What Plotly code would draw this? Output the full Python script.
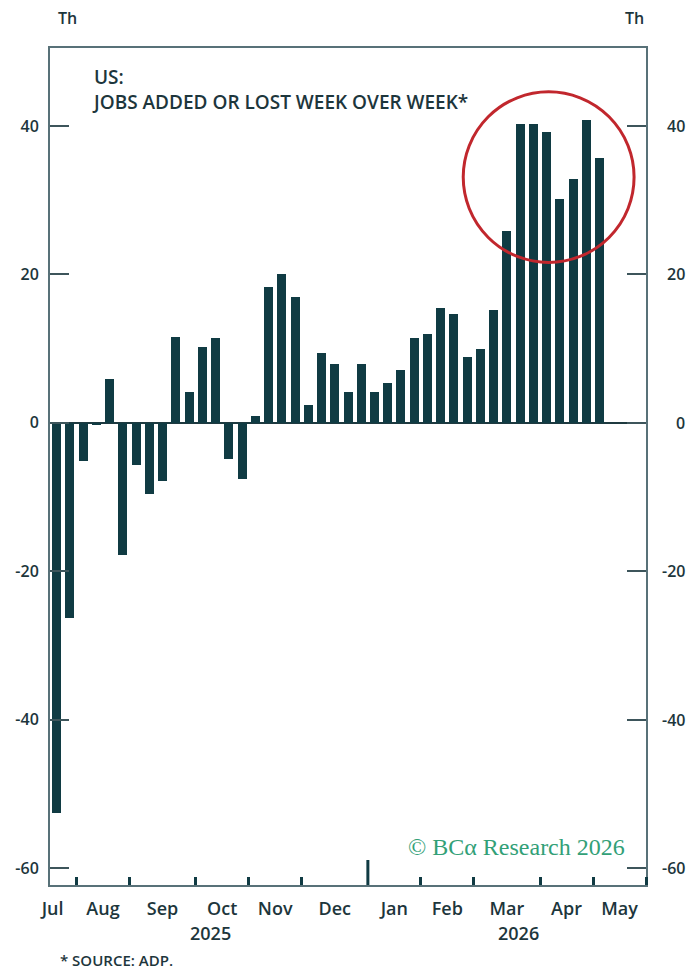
import plotly.graph_objects as go

# ---- data ----
week_index = list(range(42))
jobs_change = [-52.6, -26.3, -5.1, -0.3, 5.9, -17.8, -5.7, -9.6, -7.8, 11.6,
               4.1, 10.2, 11.4, -4.9, -7.6, 0.9, 18.3, 20.0, 17.0, 2.4,
               9.4, 7.9, 4.1, 7.9, 4.1, 5.4, 7.1, 11.4, 11.9, 15.4,
               14.6, 8.9, 9.9, 15.2, 25.9, 40.2, 40.2, 39.2, 30.2, 32.9,
               40.8, 35.7]
month_labels = ["Jul", "Aug", "Sep", "Oct", "Nov", "Dec", "Jan", "Feb", "Mar", "Apr", "May"]
month_label_pos = [-0.3, 3.5, 8, 12.5, 16.5, 21, 25.5, 29.5, 34, 38.5, 42.5]
month_bounds = [1.5, 5.5, 10.5, 14.5, 18.5, 27.5, 31.5, 36.5, 40.5, 44.5]
year_bound = 23.5
year_labels = ["2025", "2026"]
year_label_pos = [11.6, 34.9]
y_ticks = [-60, -40, -20, 0, 20, 40]
y_ticktext = ["-60", "-40", "-20", "0", "20", "40"]

DARK = "#103b43"
FRAME = "#587178"
TXT = "#1d363c"
FONT = "Open Sans"

X_RANGE = [-0.5, 44.5]
Y_RANGE = [-62.3, 50.5]
PW, PH = 596, 837  # plot area size in px

fig = go.Figure()
fig.add_trace(go.Bar(x=week_index, y=jobs_change, marker_color=DARK,
                     marker_line_width=0, width=0.68, showlegend=False))
# invisible trace to carry the right-hand axis
fig.add_trace(go.Scatter(x=[None], y=[None], yaxis="y2", showlegend=False,
                         hoverinfo="skip"))

fig.update_layout(
    width=690, height=970,
    margin=dict(l=50, r=44, t=48, b=85),
    paper_bgcolor="white", plot_bgcolor="white",
    font=dict(family=FONT, color=TXT, size=16),
    bargap=0,
    xaxis=dict(range=X_RANGE, tickmode="array", tickvals=month_label_pos,
               ticktext=month_labels, ticks="", showgrid=False, zeroline=False,
               showline=True, linecolor=FRAME, linewidth=2, mirror=True,
               ticklabelstandoff=6,
               tickfont=dict(family=FONT, size=18, color=TXT, weight=600),
               minor=dict(tickmode="array", tickvals=month_bounds, ticks="inside",
                          ticklen=8, tickwidth=3, tickcolor=DARK, showgrid=False)),
    yaxis=dict(range=Y_RANGE, tickmode="array", tickvals=y_ticks, ticktext=y_ticktext,
               ticks="inside", ticklen=19, tickwidth=2, tickcolor="#3d555b",
               showgrid=False, zeroline=True, zerolinecolor="#1f3a40", zerolinewidth=2,
               showline=True, linecolor=FRAME, linewidth=2, mirror=True,
               ticklabelstandoff=6,
               tickfont=dict(family=FONT, size=16, color=TXT, weight=600)),
    yaxis2=dict(range=Y_RANGE, overlaying="y", side="right", tickmode="array",
                tickvals=y_ticks, ticks="inside", ticklen=19,
                tickwidth=2, tickcolor="#3d555b", showgrid=False, zeroline=False,
                showline=False, showticklabels=False),
)

# right-hand tick labels, right-aligned like the original
for v, t in zip(y_ticks, y_ticktext):
    fig.add_annotation(xref="paper", yref="y2", x=1 + 41 / PW, y=v, xanchor="right",
                       yanchor="middle", showarrow=False, text=t,
                       font=dict(family=FONT, size=16, color=TXT, weight=600))

# taller year-boundary tick
fig.add_shape(type="line", xref="x", yref="paper", x0=year_bound, x1=year_bound,
              y0=0, y1=25 / PH, line=dict(color=DARK, width=3))

# red highlight circle
fig.add_shape(type="circle", xref="x", yref="y", x0=30.7, x1=43.6, y0=21.6, y1=44.6,
              line=dict(color="#c1272d", width=3))

# title
fig.add_annotation(xref="paper", yref="paper", x=40 / PW, y=1 - 14 / PH,
                   xanchor="left", yanchor="top", align="left", showarrow=False,
                   text="US:<br>JOBS ADDED OR LOST WEEK OVER WEEK*",
                   font=dict(family=FONT, size=19, color=TXT, weight=600))

# unit labels
for xp, anchor in [(0.01, "left"), (1.0, "right")]:
    fig.add_annotation(xref="paper", yref="paper", x=xp, y=1 + 30 / PH,
                       xanchor=anchor, yanchor="middle", showarrow=False, text="Th",
                       font=dict(family=FONT, size=16, color=TXT, weight=600))

# year labels
for yl, xp in zip(year_labels, year_label_pos):
    fig.add_annotation(xref="x", yref="paper", x=xp, y=-48 / PH, xanchor="center",
                       yanchor="middle", showarrow=False, text=yl,
                       font=dict(family=FONT, size=18, color=TXT, weight=600))

# source
fig.add_annotation(xref="paper", yref="paper", x=8 / PW, y=-75 / PH,
                   xanchor="left", yanchor="middle", showarrow=False,
                   text="* SOURCE: ADP.",
                   font=dict(family=FONT, size=15, color=TXT, weight=600))

# logo
fig.add_annotation(xref="paper", yref="paper", x=1 - 19 / PW, y=38 / PH,
                   xanchor="right", yanchor="middle", showarrow=False,
                   text="© BCα Research 2026",
                   font=dict(family="Liberation Serif", size=24, color="#32a077"))

fig.write_html("out.html")
